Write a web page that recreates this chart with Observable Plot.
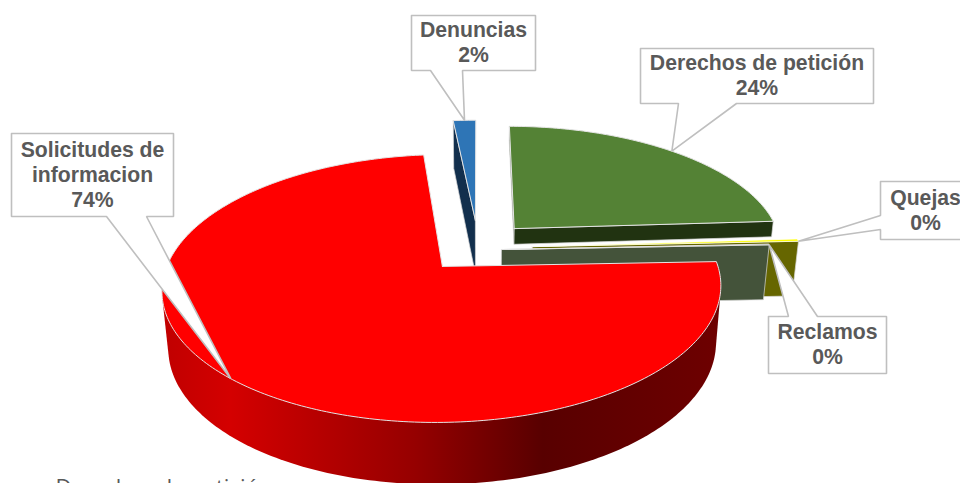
<!DOCTYPE html>
<html><head><meta charset="utf-8">
<script src="https://cdn.jsdelivr.net/npm/d3@7"></script>
<script src="https://cdn.jsdelivr.net/npm/@observablehq/plot@0.6"></script>
<style>html,body{margin:0;padding:0;background:#fff;overflow:hidden;width:960px;height:483px}</style>
</head><body><div id="chart"></div>
<script>
// ---- data
const categories = ["Derechos de petición", "Quejas", "Reclamos", "Solicitudes de\ninformacion", "Denuncias"];
const values = [24, 0.3, 0.1, 74, 1.6];
const legendText = "Derechos de petición";

// ---- styles
const topColors = ["#548235", "#ffff00", "#44533a", "#ff0000", "#2e75b6"];
const faceColors = ["#213311", "#666600", "#44533a", "#7a0000", "#122f4d"];

// ---- layout: slice explosion in disc radii, and projection of the disc
const explodeX = [0.136, 0.2, 0.085, -0.131, -0.012];
const explodeY = [-0.155, -0.006, 0.017, 0.15, -0.225];
const view = {cx: 478, cy: 246.9, S: 269, A: 124.2, p: 0.16, q: 0.02, d: 55};
// the wall faces the viewer on the front half of the disc only
const wallStart = Math.PI / 2, wallEnd = 3 * Math.PI / 2;

// ---- layout: callouts [x1, y1, x2, y2] and wedge base points
const boxes = [[640,48,873,103],[880,181,970,239],[768,316,886,373],[11,133,173,216],[411,15,535,70]];
const bases = [[[736,103],[678,103]],[[880,229],[880,215]],[[788,316],[817,316]],[[146,216],[106,216]],[[462,70],[430,70]]];
const tipOffsets = [0.5, 1, 1, 0.5, 0.5];

// ---- geometry from the values
const total = d3.sum(values);
const cum = d3.cumsum(values);
const startA = values.map((v, i) => (cum[i] - v) / total * 2 * Math.PI);
const endA = values.map((v, i) => cum[i] / total * 2 * Math.PI);

function project(i, a, r, z) {
  const X = r * Math.sin(a) + explodeX[i], Y = -r * Math.cos(a) + explodeY[i];
  const f = 1 / (1 - view.p * Y);
  return [view.cx + view.S * X * f * (1 - view.q * z),
          view.cy + view.A * Y * f + view.d * z * (1 + 0.11 * Y)];
}
function arc(i, z, a0 = startA[i], a1 = endA[i]) {
  const n = Math.max(2, Math.ceil((a1 - a0) * 180 / Math.PI));
  return d3.range(n + 1).map(k => project(i, a0 + (a1 - a0) * k / n, 1, z));
}
const closed = pts => [...pts, pts[0]];
const poly = (pts, fill, stroke = "none", strokeWidth = 1) =>
  Plot.line(closed(pts), {x: d => d[0], y: d => d[1], fill, stroke, strokeWidth, strokeLinejoin: "miter"});

const topFace = (i, stroke = "#e4e4e4", w = 1) => poly([project(i, 0, 0, 0), ...arc(i, 0)], topColors[i], stroke, w);
const cutFace = (i, a, z = 1) => poly([project(i, a, 0, 0), project(i, a, 1, 0), project(i, a, 1, z), project(i, a, 0, z)], faceColors[i], "#d8d8d8", 0.7);

// the rounded outer wall: hull of the visible top and bottom rim
const sideWall = i => poly(d3.polygonHull([...arc(i, 0, wallStart, wallEnd), ...arc(i, 1, wallStart, wallEnd)]), "url(#redSide)");

function callout(i) {
  const [x1, y1, x2, y2] = boxes[i];
  const a = startA[i] + (endA[i] - startA[i]) * tipOffsets[i];
  const tip = project(i, a, 1, 0);
  const [b1, b2] = bases[i];
  const rect = [[x1, y1], [x2, y1], [x2, y2], [x1, y2]];
  let pts;
  if (b1[1] === y2) pts = [rect[0], rect[1], rect[2], b1, tip, b2, rect[3]];
  else if (b1[0] === x1) pts = [rect[0], rect[1], rect[2], rect[3], b1, tip, b2];
  else pts = [rect[0], b1, tip, b2, rect[1], rect[2], rect[3]];
  return poly(pts, "#ffffff", "#bfbfbf", 1.6);
}

function defs() {
  const ns = "http://www.w3.org/2000/svg";
  const d = document.createElementNS(ns, "defs");
  const g = document.createElementNS(ns, "linearGradient");
  g.setAttribute("id", "redSide");
  g.setAttribute("gradientUnits", "userSpaceOnUse");
  g.setAttribute("x1", 163); g.setAttribute("x2", 721);
  g.setAttribute("y1", 0); g.setAttribute("y2", 0);
  [[0, "#c00000"], [0.12, "#d40000"], [0.45, "#960000"], [0.68, "#580000"], [1, "#6e0000"]].forEach(([o, c]) => {
    const s = document.createElementNS(ns, "stop");
    s.setAttribute("offset", o); s.setAttribute("stop-color", c);
    g.appendChild(s);
  });
  d.appendChild(g);
  return d;
}

const labels = categories.map((c, i) => ({
  text: `${c}\n${Math.round(values[i] / total * 100)}%`,
  x: (boxes[i][0] + boxes[i][2]) / 2,
  y: (boxes[i][1] + boxes[i][3]) / 2 - 1.5
}));

const chart = Plot.plot({
  width: 960, height: 483, margin: 0,
  x: {domain: [0, 960], range: [0, 960], axis: null},
  y: {domain: [0, 483], range: [0, 483], axis: null},
  style: {background: "#fff", overflow: "hidden"},
  marks: [
    defs,
    cutFace(4, startA[4]), topFace(4),
    cutFace(0, 0, 0.29), cutFace(0, endA[0], 0.29), topFace(0),
    cutFace(1, endA[1]), topFace(1, "#ffffff", 0.7),
    cutFace(2, endA[2]), topFace(2),
    sideWall(3), topFace(3),
    ...d3.range(5).map(callout),
    Plot.text(labels, {x: "x", y: "y", text: "text", fill: "#595959", stroke: "none",
      fontFamily: "Liberation Sans", fontWeight: "bold", fontSize: 21.2, lineHeight: 1.18, textAnchor: "middle"}),
    Plot.text([legendText], {x: () => 55, y: () => 478.5, text: d => d, fill: "#595959", stroke: "none",
      fontFamily: "Open Sans", fontSize: 22, textAnchor: "start", lineAnchor: "top"})
  ]
});
document.getElementById("chart").appendChild(chart);
</script></body></html>
